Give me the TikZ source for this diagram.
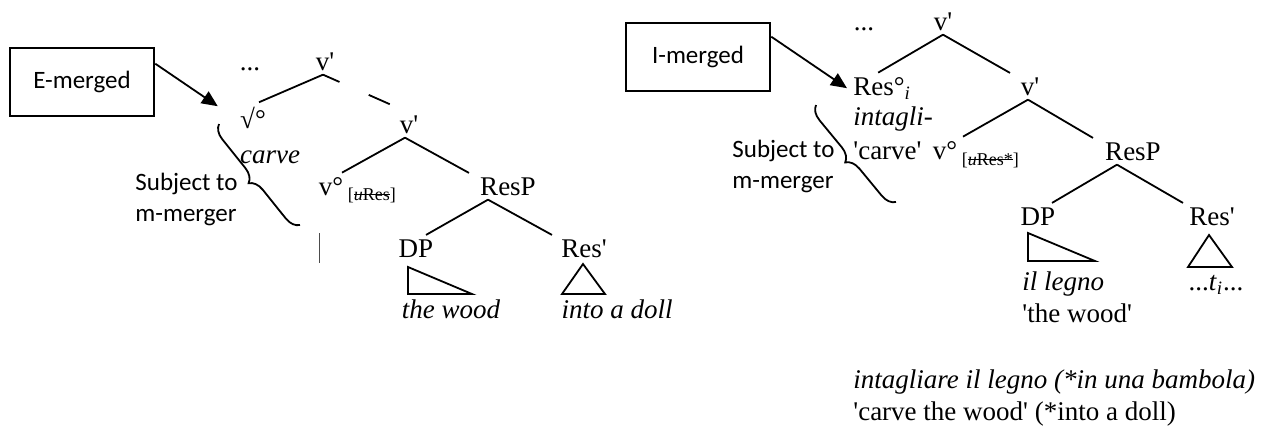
\documentclass[tikz,border=0pt]{standalone}
\usepackage{fontspec}
\setmainfont{Liberation Serif}[Ligatures=TeXOff]
\newfontfamily\boxfont{Carlito}
\usetikzlibrary{arrows.meta, decorations.pathreplacing}

\newsavebox\strikebox
\newcommand{\strk}[1]{\sbox\strikebox{#1}\rlap{\raisebox{0.3em}{\rule{\wd\strikebox}{0.45pt}}}\usebox\strikebox}
\newcommand{\feat}[1]{{\fontsize{9}{10}\selectfont[\strk{#1}]}}

\tikzset{
  lbl/.style={anchor=base, inner sep=2pt, font=\fontsize{13.5}{16}\selectfont},
  gloss/.style={lbl, font=\fontsize{13.5}{16}\selectfont\itshape},
  mergebox/.style={draw, line width=1.3pt, minimum width=72pt, minimum height=34pt, font=\boxfont\fontsize{12.5}{15}\selectfont},
  note/.style={anchor=base west, inner sep=0pt, align=left, font=\boxfont\fontsize{12.5}{15.5}\selectfont},
  branch/.style={line width=0.9pt},
  point/.style={-{Triangle[length=8pt,width=7pt]}, line width=0.9pt},
  mbrace/.style={decorate, decoration={brace, amplitude=7pt}, line width=0.9pt}
}

\begin{document}
\begin{tikzpicture}[x=0.5pt, y=-0.5pt]
  \useasboundingbox (0,0) rectangle (1287,430);

  % E-merged tree
  \node [mergebox] (emerged) at (82,82) {E-merged};
  \node [lbl] (ldots) at (250,70) {...};
  \node [lbl] (lvtop) at (325,70) {v'};
  \node [lbl] (lroot) at (253,128) {√°};
  \node [gloss] (lcarve) at (270,163) {carve};
  \node [lbl] (lvmid) at (409,133) {v'};
  \node [lbl] (lvo) at (331,195) {v°};
  \node [anchor=base west, inner sep=0pt] (lfeat) at ([yshift=-2.5pt]lvo.base east) {\feat{\textit{u}Res}};
  \node [lbl] (lresp) at (508,195) {ResP};
  \node [lbl] (ldp) at (416,257) {DP};
  \node [lbl] (lres) at (584,257) {Res'};
  \node [gloss] (lwood) at (451,318) {the wood};
  \node [gloss] (ldoll) at (617,318) {into a doll};
  \node [note] (lnote) at (135,221) {Subject to\\m-merger};

  \draw [branch] ([xshift=-1pt]lvtop.south) -- ([xshift=3pt]lroot.north);
  \draw [branch, dash pattern=on 9pt off 16pt on 11.5pt off 30pt] ([xshift=-1pt]lvtop.south) -- ([xshift=-2pt]lvmid.north);
  \draw [branch] ([xshift=-2pt]lvmid.south) -- ([xshift=5.5pt]lvo.north);
  \draw [branch] ([xshift=-2pt]lvmid.south) -- ([xshift=-19.5pt]lresp.north);
  \draw [branch] ([xshift=-10pt]lresp.south) -- ([xshift=5pt]ldp.north);
  \draw [branch] ([xshift=-10pt]lresp.south) -- ([xshift=-16pt]lres.north);
  \draw [branch] (408,267) -- (408,294) -- (472,294) -- cycle;
  \draw [branch] (583,264) -- (562,294) -- (605,294) -- cycle;
  \draw [line width=0.5pt, black!70] (319,233) -- (319,263);
  \draw [mbrace] (300,225) -- (219,124);
  \draw [point] ([yshift=-8.5pt]emerged.north east) -- ([xshift=-9pt,yshift=-2pt]lroot.north west);

  % I-merged tree
  \node [mergebox] (imerged) at (698,57) {I-merged};
  \node [lbl] (rdots) at (864,30) {...};
  \node [lbl] (rvtop) at (943,30) {v'};
  \node [lbl, anchor=base west] (rres) at (849,95) {Res°\textsubscript{\itshape i}};
  \node [gloss, anchor=base west] (rintagli) at (849,125) {intagli-};
  \node [lbl, anchor=base west] (rcarve) at (849,159) {'carve'};
  \node [lbl] (rvo) at (945,159) {v°};
  \node [anchor=base west, inner sep=0pt] (rfeat) at ([yshift=-3pt]rvo.base east) {\feat{\textit{u}Res*}};
  \node [lbl] (rvmid) at (1030,95) {v'};
  \node [lbl] (rresp) at (1133,160) {ResP};
  \node [lbl] (rdp) at (1038,225) {DP};
  \node [lbl] (rresb) at (1212,225) {Res'};
  \node [gloss, anchor=base west] (rlegno) at (1018,290) {il legno};
  \node [lbl, anchor=base west] (rwood) at (1018,322) {'the wood'};
  \node [lbl] (rtrace) at (1216,290) {...\textit{t}\textsubscript{\itshape i}...};
  \node [note] (rnote) at (732,188) {Subject to\\m-merger};
  \node [gloss, anchor=base west] (rgloss) at (849,388) {intagliare il legno (*in una bambola)};
  \node [lbl, anchor=base west] (rtrans) at (849,420) {'carve the wood' (*into a doll)};

  \draw [branch] (rvtop.south) -- ([xshift=-2pt]rres.north);
  \draw [branch] (rvtop.south) -- ([xshift=-10pt]rvmid.north);
  \draw [branch] ([xshift=-1pt]rvmid.south) -- ([xshift=9pt]rvo.north);
  \draw [branch] ([xshift=-1pt]rvmid.south) -- ([xshift=-20pt]rresp.north);
  \draw [branch] ([xshift=-8pt]rresp.south) -- ([xshift=7pt]rdp.north);
  \draw [branch] ([xshift=-8pt]rresp.south) -- ([xshift=-14.5pt]rresb.north);
  \draw [branch] (1028,233) -- (1028,261) -- (1095,261) -- cycle;
  \draw [branch] (1209,235) -- (1188,267) -- (1232,267) -- cycle;
  \draw [mbrace] (896,202) -- (816,105);
  \draw [point] ([yshift=-7.5pt]imerged.north east) -- ([xshift=-1pt]rres.west);
\end{tikzpicture}
\end{document}
